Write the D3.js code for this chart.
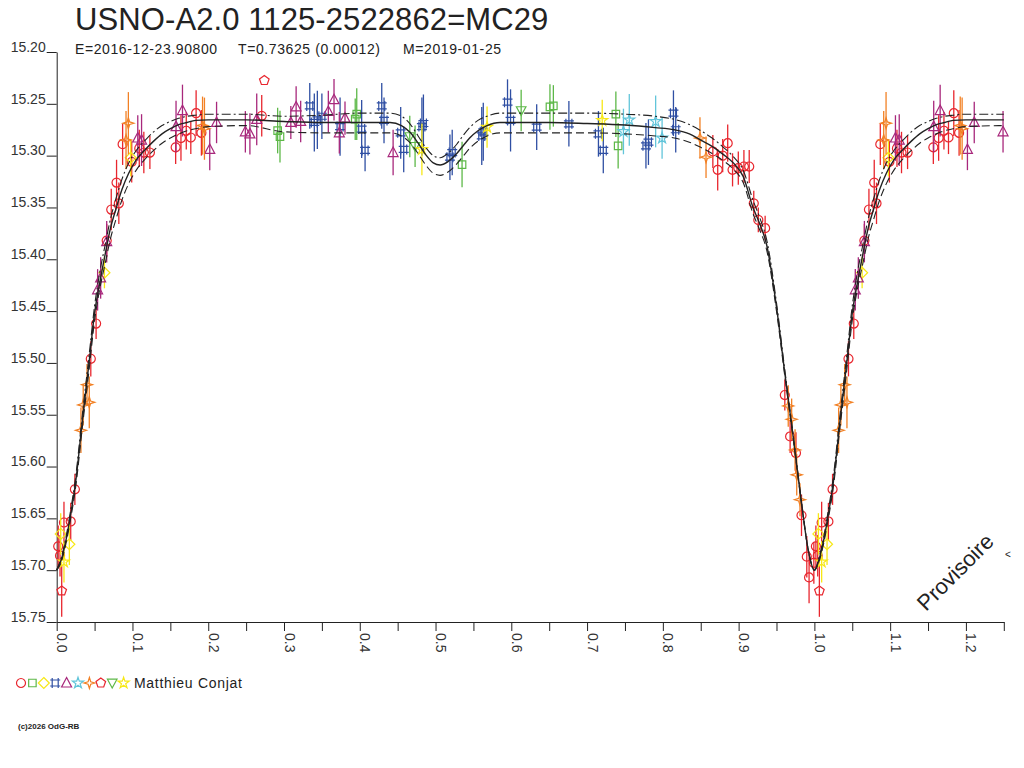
<!DOCTYPE html>
<html>
<head>
<meta charset="utf-8">
<script src="https://cdn.jsdelivr.net/npm/d3@7"></script>
<style>
body { margin: 0; background: #fff; }
text { font-family: "Liberation Sans", Arial, sans-serif; fill: #222; }
</style>
</head>
<body>
<svg id="chart" width="1024" height="768"></svg>
<script>
// axis ticks
const xMajor = [0, 0.1, 0.2, 0.3, 0.4, 0.5, 0.6, 0.7, 0.8, 0.9, 1.0, 1.1, 1.2]
const xMinor = [0.05, 0.15, 0.25, 0.35, 0.45, 0.55, 0.65, 0.75, 0.85, 0.95, 1.05, 1.15, 1.25]
const yTicks = [15.20, 15.25, 15.30, 15.35, 15.40, 15.45, 15.50, 15.55, 15.60, 15.65, 15.70, 15.75]

// model light curve (phase 0..1), mean and envelopes
const modelPhase = [0, .006, .012, .018, .025, .034, .043, .050, .057, .064,
  .071, .078, .086, .095, .105, .117, .128, .139, .150, .161,
  .172, .183, .20, .25, .30, .35, .40, .44, .455, .467,
  .477, .488, .497, .506, .516, .528, .537, .545, .556, .568,
  .585, .65, .70, .75, .79, .815, .835, .85, .865, .88,
  .893, .906, .919, .928, .937, .95, .961, .972, .983, .992, 1.0]
const modelMid = [15.700, 15.690, 15.672, 15.648, 15.615, 15.555, 15.498, 15.452, 15.422, 15.395,
  15.370, 15.352, 15.333, 15.317, 15.304, 15.294, 15.286, 15.279, 15.274, 15.270,
  15.268, 15.266, 15.2655, 15.2655, 15.267, 15.268, 15.268, 15.268, 15.271, 15.278,
  15.288, 15.300, 15.307, 15.309, 15.306, 15.298, 15.290, 15.283, 15.276, 15.271,
  15.268, 15.268, 15.269, 15.2705, 15.273, 15.275, 15.279, 15.285, 15.291, 15.299,
  15.307, 15.320, 15.350, 15.366, 15.386, 15.446, 15.510, 15.571, 15.635, 15.681, 15.700]
const modelUpper = [15.700, 15.688, 15.669, 15.644, 15.610, 15.549, 15.491, 15.445, 15.412, 15.386,
  15.361, 15.342, 15.323, 15.307, 15.295, 15.285, 15.277, 15.271, 15.267, 15.264,
  15.262, 15.261, 15.260, 15.260, 15.262, 15.261, 15.259, 15.259, 15.262, 15.270,
  15.281, 15.293, 15.300, 15.302, 15.298, 15.289, 15.280, 15.273, 15.266, 15.262,
  15.259, 15.259, 15.259, 15.260, 15.262, 15.265, 15.270, 15.276, 15.283, 15.292,
  15.301, 15.314, 15.343, 15.360, 15.381, 15.442, 15.507, 15.569, 15.634, 15.681, 15.700]
const modelLower = [15.700, 15.692, 15.675, 15.652, 15.620, 15.561, 15.505, 15.459, 15.428, 15.404,
  15.380, 15.362, 15.343, 15.327, 15.314, 15.303, 15.295, 15.288, 15.283, 15.279,
  15.276, 15.274, 15.272, 15.271, 15.277, 15.278, 15.278, 15.278, 15.281, 15.288,
  15.298, 15.310, 15.317, 15.319, 15.316, 15.308, 15.300, 15.293, 15.286, 15.281,
  15.278, 15.278, 15.278, 15.279, 15.281, 15.283, 15.287, 15.292, 15.298, 15.305,
  15.313, 15.326, 15.356, 15.372, 15.391, 15.450, 15.513, 15.573, 15.636, 15.681, 15.700]

// observations [phase, magnitude, error]
const redCircle = [[0.002, 15.677, 0.02], [0.0044, 15.686, 0.02], [0.0096, 15.654, 0.02], [0.0185, 15.653, 0.018],
  [0.024, 15.622, 0.015], [0.045, 15.496, 0.017], [0.052, 15.462, 0.015], [0.066, 15.382, 0.016],
  [0.072, 15.352, 0.02], [0.079, 15.326, 0.022], [0.082, 15.346, 0.02], [0.087, 15.289, 0.02],
  [0.099, 15.306, 0.02], [0.109, 15.293, 0.018], [0.115, 15.297, 0.02], [0.123, 15.297, 0.016],
  [0.157, 15.292, 0.016], [0.164, 15.283, 0.022], [0.171, 15.276, 0.018], [0.177, 15.2825, 0.016],
  [0.184, 15.259, 0.022], [0.191, 15.278, 0.022], [0.2706, 15.2616, 0.02],
  [0.866, 15.296, 0.016], [0.8724, 15.3137, 0.02], [0.879, 15.300, 0.016], [0.8856, 15.288, 0.018],
  [0.892, 15.3137, 0.016], [0.8996, 15.312, 0.016], [0.907, 15.3105, 0.016], [0.914, 15.3105, 0.016],
  [0.920, 15.346, 0.012], [0.926, 15.362, 0.012], [0.935, 15.370, 0.012],
  [0.961, 15.531, 0.015], [0.968, 15.571, 0.016], [0.9757, 15.587, 0.02], [0.983, 15.647, 0.02],
  [0.990, 15.687, 0.02], [0.993, 15.707, 0.025], [0.9993, 15.693, 0.02]]
const greenSquare = [[0.2916, 15.2758, 0.022], [0.2947, 15.2816, 0.025], [0.394, 15.2648, 0.02], [0.396, 15.26, 0.025],
  [0.535, 15.3086, 0.022], [0.651, 15.253, 0.022], [0.6555, 15.252, 0.02], [0.738, 15.26, 0.022], [0.741, 15.2905, 0.022]]
const yellowDiamond = [[0.0053, 15.665, 0.02], [0.0167, 15.675, 0.02], [0.063, 15.413, 0.015], [0.0977, 15.302, 0.018]]
const blueCross = [[0.334, 15.252, 0.022], [0.340, 15.268, 0.028], [0.344, 15.2655, 0.028], [0.350, 15.262, 0.022],
  [0.374, 15.272, 0.028], [0.4025, 15.2744, 0.028], [0.407, 15.295, 0.02], [0.429, 15.252, 0.022],
  [0.432, 15.266, 0.022], [0.454, 15.278, 0.025], [0.458, 15.294, 0.022], [0.482, 15.272, 0.028],
  [0.484, 15.269, 0.028], [0.519, 15.3015, 0.022], [0.522, 15.297, 0.022], [0.561, 15.281, 0.028],
  [0.563, 15.277, 0.028], [0.595, 15.2484, 0.022], [0.599, 15.266, 0.03], [0.6335, 15.2725, 0.022],
  [0.676, 15.2693, 0.022], [0.715, 15.279, 0.022], [0.7214, 15.295, 0.022], [0.7777, 15.2905, 0.022],
  [0.781, 15.287, 0.022], [0.814, 15.259, 0.022], [0.817, 15.275, 0.022]]
const purpleTriangle = [[0.054, 15.4295, 0.02], [0.058, 15.418, 0.02], [0.066, 15.383, 0.02], [0.107, 15.283, 0.022],
  [0.112, 15.285, 0.025], [0.1575, 15.272, 0.025], [0.166, 15.2565, 0.025], [0.202, 15.294, 0.02],
  [0.211, 15.268, 0.02], [0.249, 15.277, 0.02], [0.255, 15.279, 0.02], [0.264, 15.265, 0.025],
  [0.309, 15.268, 0.016], [0.316, 15.253, 0.02], [0.322, 15.267, 0.02], [0.3585, 15.2574, 0.02],
  [0.366, 15.246, 0.02], [0.373, 15.278, 0.02], [0.3805, 15.2638, 0.016], [0.444, 15.297, 0.022]]
const cyanStar = [[0.748, 15.2767, 0.022], [0.7557, 15.2655, 0.025], [0.7905, 15.267, 0.025], [0.799, 15.283, 0.02]]
const orangeStar = [[0.032, 15.565, 0.022], [0.035, 15.5405, 0.02], [0.040, 15.521, 0.02], [0.043, 15.538, 0.025],
  [0.0915, 15.285, 0.028], [0.0946, 15.2687, 0.03], [0.1925, 15.271, 0.028], [0.195, 15.274, 0.03],
  [0.849, 15.283, 0.02], [0.857, 15.3015, 0.02], [0.9655, 15.5415, 0.02], [0.970, 15.5544, 0.02],
  [0.9745, 15.584, 0.02], [0.9767, 15.608, 0.02], [0.981, 15.632, 0.016]]
const redPentagon = [[0.0066, 15.720, 0.025], [0.274, 15.2275, 0]]
const greenTriDown = [[0.466, 15.2816, 0.02], [0.473, 15.291, 0.02], [0.613, 15.2565, 0.02]]
const yellowStar = [[0.0096, 15.692, 0.02], [0.482, 15.294, 0.025], [0.568, 15.2725, 0.02], [0.720, 15.266, 0.02]]

const observers = ["Matthieu Conjat"]

function drawChart() {
    const svg = d3.select("#chart")

    const x = d3.scaleLinear().domain([0, 1.25]).range([56.7, 1003.8])
    const y = d3.scaleLinear().domain([15.20, 15.75]).range([52, 622])

    // symbol shapes
    const pentagon = "M0,-5 L4.8,-1.5 L2.9,4 L-2.9,4 L-4.8,-1.5 Z"
    const star4 = "M0,-5.5 L1.3,-1.3 L5.5,0 L1.3,1.3 L0,5.5 L-1.3,1.3 L-5.5,0 L-1.3,-1.3 Z"
    const hashSq = "M-3,-5 V5 M3,-5 V5 M-5,-3 H5 M-5,3 H5"
    const star5 = d3.symbol(d3.symbolStar, 38)()
    const series = [
        {data: redCircle, color: "#e8262e", shape: d3.symbol(d3.symbolCircle, 64)()},
        {data: greenSquare, color: "#5db848", shape: d3.symbol(d3.symbolSquare, 56)()},
        {data: yellowDiamond, color: "#f7e817", shape: "M0,-5.5 L5.5,0 L0,5.5 L-5.5,0 Z"},
        {data: blueCross, color: "#2f4fa3", shape: hashSq},
        {data: purpleTriangle, color: "#a8287c", shape: "M0,-5.5 L5,4 L-5,4 Z"},
        {data: cyanStar, color: "#62c5da", shape: star5},
        {data: orangeStar, color: "#f28024", shape: star4},
        {data: redPentagon, color: "#e8262e", shape: pentagon},
        {data: greenTriDown, color: "#5db848", shape: "M0,5 L4.8,-3.8 L-4.8,-3.8 Z"},
        {data: yellowStar, color: "#f7e817", shape: star5}
    ]

    // title
    svg.append("text").attr("x", 75).attr("y", 30)
        .attr("font-size", 31).attr("letter-spacing", "0.1px")
        .text("USNO-A2.0 1125-2522862=MC29")
    const sub = [["E=2016-12-23.90800", 75], ["T=0.73625 (0.00012)", 238], ["M=2019-01-25", 403]]
    svg.selectAll(".sub").data(sub).enter().append("text")
        .attr("class", "sub")
        .attr("x", d => d[1]).attr("y", 54)
        .attr("font-size", 14).attr("letter-spacing", "0.6px")
        .text(d => d[0])

    // axes
    const yAxis = svg.append("g")
        .attr("transform", `translate(${x(0)},0)`)
        .style("color", "#222")
        .call(d3.axisLeft(y).tickValues(yTicks).tickSize(10).tickSizeOuter(0)
            .tickFormat(d3.format(".2f")))
    yAxis.selectAll("text")
        .attr("font-size", 14)
        .attr("font-family", "Liberation Sans, Arial, sans-serif")
        .attr("x", -11).attr("dy", "-0.05em")
        .style("fill", "#333")

    const xAxis = svg.append("g")
        .attr("transform", `translate(0,${y(15.75)})`)
        .style("color", "#222")
        .call(d3.axisBottom(x).tickValues(xMajor.concat(xMinor)).tickSize(9).tickSizeOuter(0)
            .tickFormat(d => xMajor.includes(d) ? d3.format(".1f")(d) : ""))
    xAxis.selectAll("text")
        .attr("font-size", 14)
        .attr("font-family", "Liberation Sans, Arial, sans-serif")
        .attr("transform", "rotate(90)")
        .attr("x", 11).attr("y", 0).attr("dy", 0)
        .style("text-anchor", "start")
        .style("fill", "#333")

    // observations, phases below 0.25 repeated after 1.0
    const plotted = g => g.concat(g.filter(d => d[0] <= 0.25).map(d => [d[0] + 1, d[1], d[2]]))

    series.forEach(s => {
        const pts = svg.append("g").selectAll("g")
            .data(plotted(s.data))
            .enter().append("g")
            .attr("transform", d => `translate(${x(d[0])},${y(d[1])})`)
        pts.append("line")
            .attr("y1", d => y(d[1] - d[2]) - y(d[1]))
            .attr("y2", d => y(d[1] + d[2]) - y(d[1]))
            .attr("stroke", s.color).attr("stroke-width", 1.3)
        pts.append("path")
            .attr("d", s.shape)
            .attr("fill", "none").attr("stroke", s.color).attr("stroke-width", 1.2)
    })

    // model curves
    const curveRows = mags => {
        const rows = modelPhase.map((p, i) => [p, mags[i]])
        return rows.concat(rows.filter(d => d[0] > 0 && d[0] <= 0.25).map(d => [d[0] + 1, d[1]]))
    }
    const line = d3.line().x(d => x(d[0])).y(d => y(d[1])).curve(d3.curveMonotoneX)
    svg.append("path").attr("d", line(curveRows(modelUpper)))
        .attr("fill", "none").attr("stroke", "#222").attr("stroke-width", 1.1)
        .attr("stroke-dasharray", "9,3,2,3")
    svg.append("path").attr("d", line(curveRows(modelLower)))
        .attr("fill", "none").attr("stroke", "#222").attr("stroke-width", 1.1)
        .attr("stroke-dasharray", "8,4")
    svg.append("path").attr("d", line(curveRows(modelMid)))
        .attr("fill", "none").attr("stroke", "#222").attr("stroke-width", 1.4)

    // legend
    const leg = svg.append("g").attr("transform", "translate(21,683)")
    leg.selectAll("path").data(series).enter().append("path")
        .attr("transform", (d, i) => `translate(${i * 11.4},0)`)
        .attr("d", d => d.shape)
        .attr("fill", "none").attr("stroke", d => d.color).attr("stroke-width", 1.2)
    svg.append("text").attr("x", 134).attr("y", 688)
        .attr("font-size", 14).attr("letter-spacing", "0.7px")
        .text(observers[0])

    svg.append("text").attr("x", 18).attr("y", 729)
        .attr("font-size", 8).attr("font-weight", "bold")
        .text("(c)2026 OdG-RB")

    // watermark
    svg.append("text")
        .attr("transform", "translate(926,612) rotate(-45)")
        .attr("font-size", 22)
        .text("Provisoire")
    svg.append("text").attr("x", 1005).attr("y", 558)
        .attr("font-size", 10).text("<")
}

drawChart()
</script>
</body>
</html>
